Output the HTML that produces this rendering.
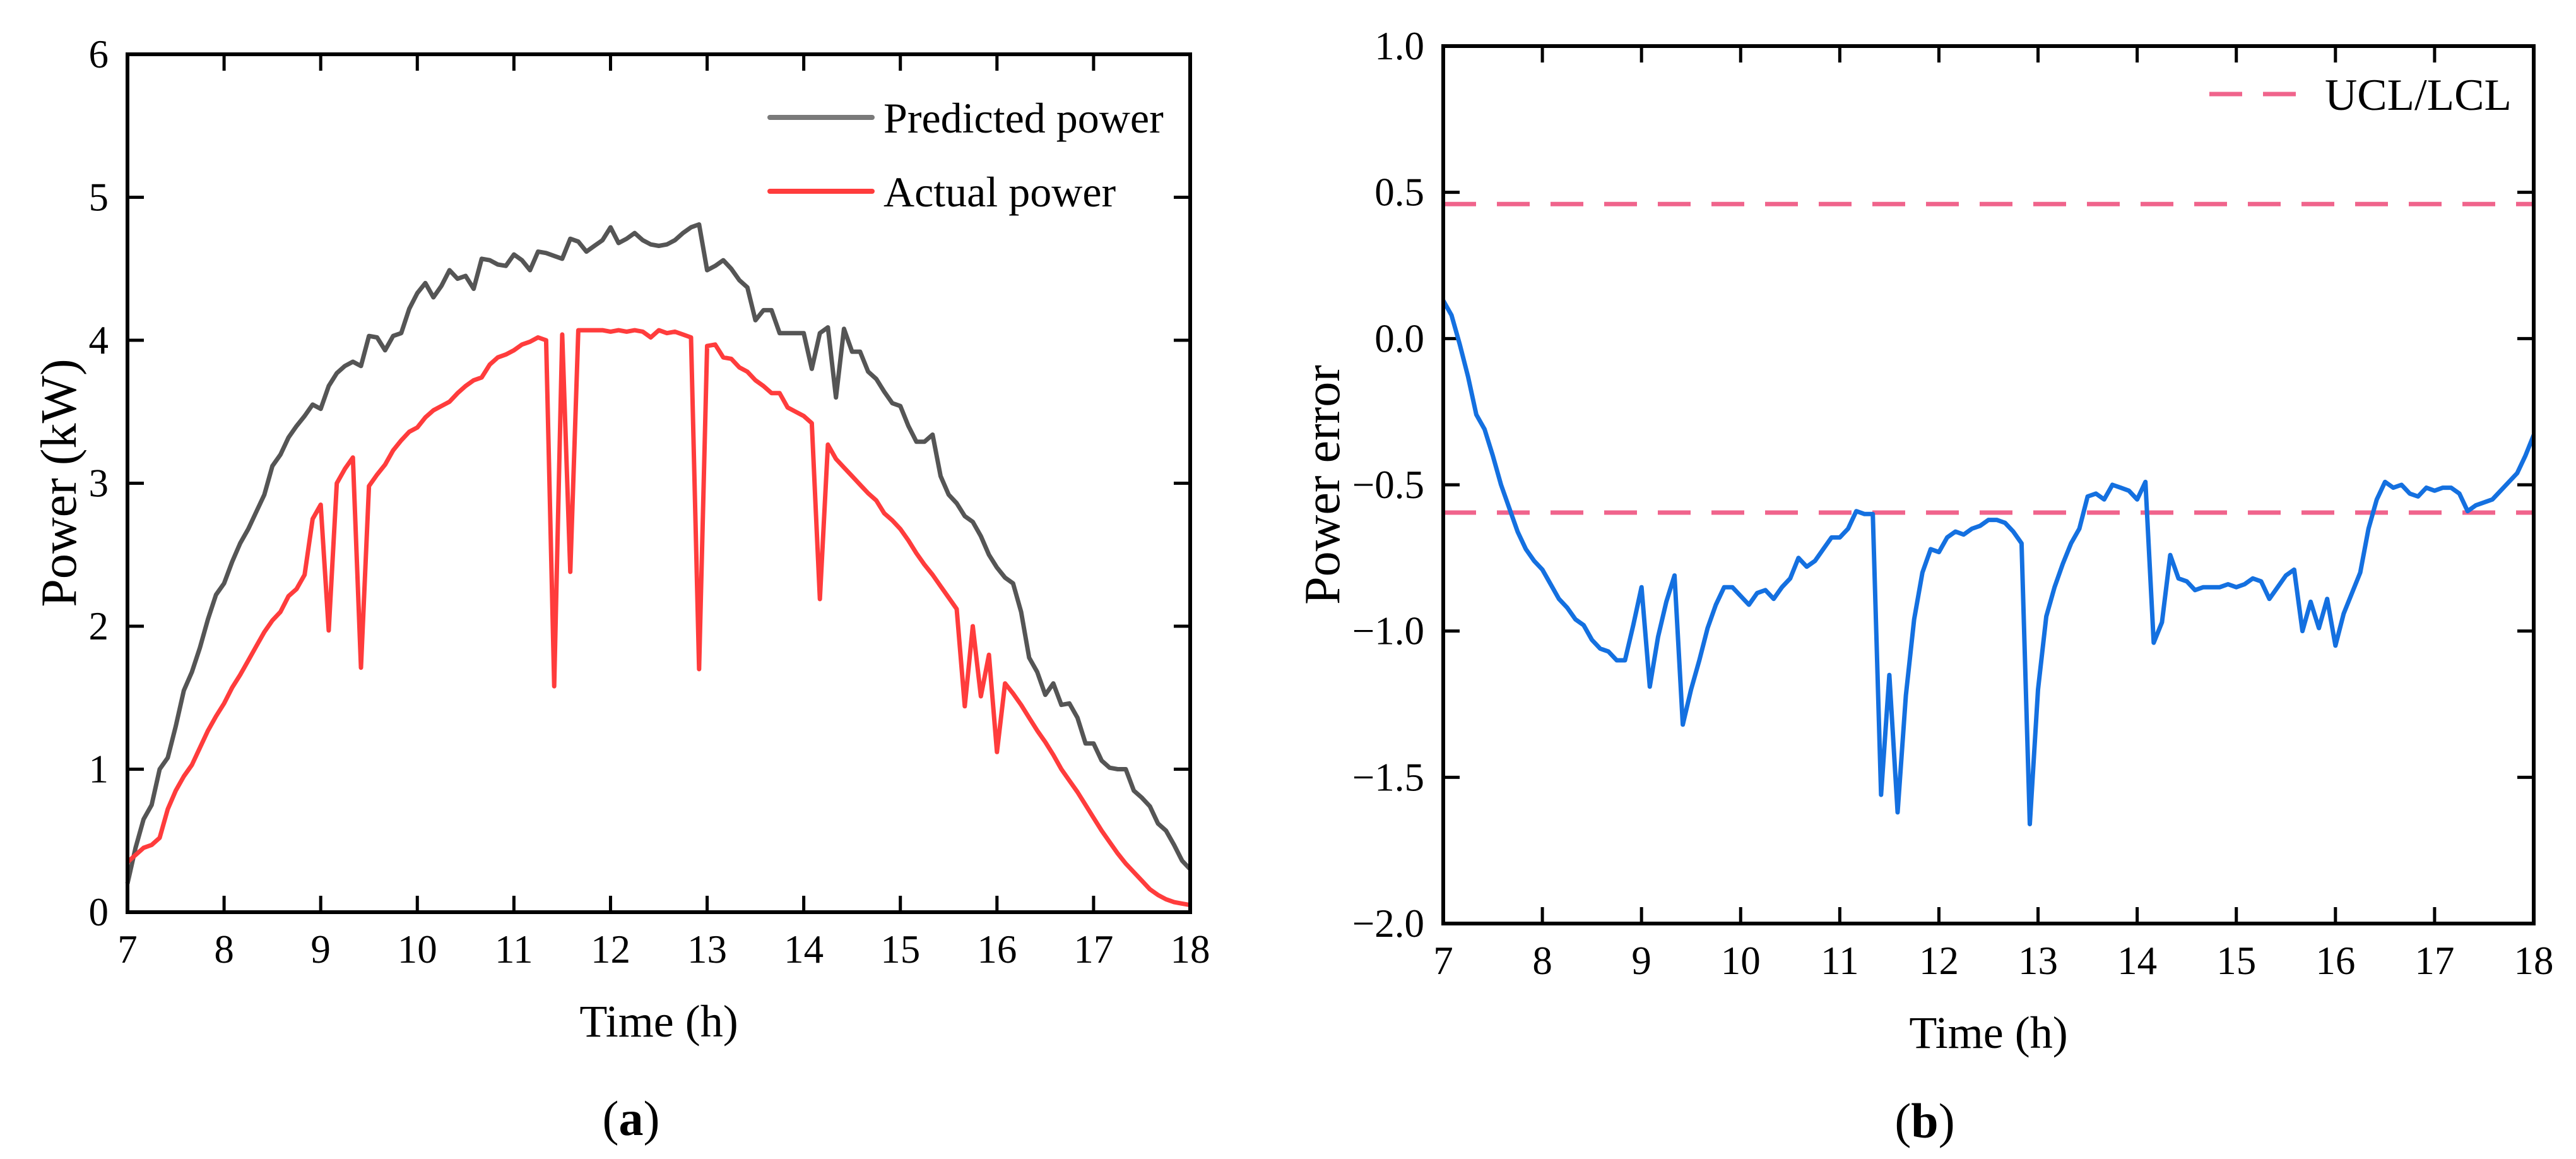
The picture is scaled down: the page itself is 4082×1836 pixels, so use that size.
<!DOCTYPE html>
<html><head><meta charset="utf-8"><style>
html,body{margin:0;padding:0;background:#fff}
svg{display:block}
text{font-family:"Liberation Serif","DejaVu Serif",serif;fill:#000}
</style></head><body>
<svg id="fig" width="4082" height="1836" viewBox="0 0 4082 1836" xmlns="http://www.w3.org/2000/svg">
<g id="pa"></g>
<g id="pb"></g>
</svg>
<script>
const xTicks = [7,8,9,10,11,12,13,14,15,16,17,18];
const yTicksA = [0,1,2,3,4,5,6];
const yTicksB = [-2.0,-1.5,-1.0,-0.5,0.0,0.5,1.0];
const ucl = 0.46;
const lcl = -0.595;
const predicted = [0.2,0.45,0.65,0.75,1.0,1.08,1.3,1.55,1.68,1.85,2.05,2.22,
2.3,2.45,2.58,2.68,2.8,2.92,3.12,3.2,3.32,3.4,3.47,3.55,
3.52,3.68,3.77,3.82,3.85,3.82,4.03,4.02,3.93,4.03,4.05,4.22,
4.33,4.4,4.3,4.38,4.49,4.43,4.45,4.36,4.57,4.56,4.53,4.52,
4.6,4.56,4.49,4.62,4.61,4.59,4.57,4.71,4.69,4.62,4.66,4.7,
4.79,4.68,4.71,4.75,4.7,4.67,4.66,4.67,4.7,4.75,4.79,4.81,
4.49,4.52,4.56,4.5,4.42,4.37,4.14,4.21,4.21,4.05,4.05,4.05,
4.05,3.8,4.05,4.09,3.6,4.08,3.92,3.92,3.78,3.73,3.64,3.56,
3.54,3.4,3.29,3.29,3.34,3.05,2.92,2.86,2.77,2.73,2.63,2.5,
2.41,2.34,2.3,2.1,1.78,1.68,1.52,1.6,1.45,1.46,1.36,1.18,
1.18,1.06,1.01,1.0,1.0,0.85,0.8,0.74,0.62,0.57,0.47,0.36,
0.3];
const actual = [0.35,0.4,0.45,0.47,0.52,0.72,0.85,0.95,1.03,1.15,1.27,1.37,
1.46,1.57,1.66,1.76,1.86,1.96,2.04,2.1,2.21,2.26,2.36,2.75,
2.85,1.97,3.0,3.1,3.18,1.71,2.98,3.06,3.13,3.23,3.3,3.36,
3.39,3.46,3.51,3.54,3.57,3.63,3.68,3.72,3.74,3.83,3.88,3.9,
3.93,3.97,3.99,4.02,4.0,1.58,4.04,2.38,4.07,4.07,4.07,4.07,
4.06,4.07,4.06,4.07,4.06,4.02,4.07,4.05,4.06,4.04,4.02,1.7,
3.96,3.97,3.88,3.87,3.81,3.78,3.72,3.68,3.63,3.63,3.53,3.5,
3.47,3.42,2.19,3.27,3.17,3.11,3.05,2.99,2.93,2.88,2.79,2.74,
2.68,2.6,2.51,2.43,2.36,2.28,2.2,2.12,1.44,2.0,1.51,1.8,
1.12,1.6,1.53,1.45,1.36,1.27,1.19,1.1,1.0,0.92,0.84,0.75,
0.66,0.57,0.49,0.41,0.34,0.28,0.22,0.16,0.12,0.09,0.07,0.06,
0.05];
const errorVals = [0.13,0.08,-0.02,-0.13,-0.26,-0.31,-0.4,-0.5,-0.58,-0.66,-0.72,-0.76,
-0.79,-0.84,-0.89,-0.92,-0.96,-0.98,-1.03,-1.06,-1.07,-1.1,-1.1,-0.98,
-0.85,-1.19,-1.02,-0.9,-0.81,-1.32,-1.2,-1.1,-0.99,-0.91,-0.85,-0.85,
-0.88,-0.91,-0.87,-0.86,-0.89,-0.85,-0.82,-0.75,-0.78,-0.76,-0.72,-0.68,
-0.68,-0.65,-0.59,-0.6,-0.6,-1.56,-1.15,-1.62,-1.22,-0.96,-0.8,-0.72,
-0.73,-0.68,-0.66,-0.67,-0.65,-0.64,-0.62,-0.62,-0.63,-0.66,-0.7,-1.66,
-1.2,-0.95,-0.85,-0.77,-0.7,-0.65,-0.54,-0.53,-0.55,-0.5,-0.51,-0.52,
-0.55,-0.49,-1.04,-0.97,-0.74,-0.82,-0.83,-0.86,-0.85,-0.85,-0.85,-0.84,
-0.85,-0.84,-0.82,-0.83,-0.89,-0.85,-0.81,-0.79,-1.0,-0.9,-0.99,-0.89,
-1.05,-0.94,-0.87,-0.8,-0.65,-0.55,-0.49,-0.51,-0.5,-0.53,-0.54,-0.51,
-0.52,-0.51,-0.51,-0.53,-0.59,-0.57,-0.56,-0.55,-0.52,-0.49,-0.46,-0.4,
-0.33];

const NS = 'http://www.w3.org/2000/svg';
function mk(parent, tag, attrs, txt){
  const e = document.createElementNS(NS, tag);
  for (const k in attrs) e.setAttribute(k, attrs[k]);
  if (txt !== undefined) e.textContent = txt;
  parent.appendChild(e);
  return e;
}
function fmtB(v){ const s = Math.abs(v).toFixed(1); return v < 0 ? '\u2212' + s : s; }

function panel(g, L, R, T, B, xmin, xmax, ymin, ymax, yTicks, yFmt){
  const sx = v => L + (v - xmin) / (xmax - xmin) * (R - L);
  const sy = v => B - (v - ymin) / (ymax - ymin) * (B - T);
  const tl = 26;
  xTicks.forEach(t => {
    const x = sx(t);
    const tk = mk(g, 'path', {d:`M${x},${B}V${B-tl}M${x},${T}V${T+tl}`, stroke:'#000','stroke-width':5});
    
    
    const lb = mk(g, 'text', {x:x, y:B+80, 'font-size':63, 'text-anchor':'middle'}, String(t));
    
    
  });
  yTicks.forEach(t => {
    const y = sy(t);
    const tk = mk(g, 'path', {d:`M${L},${y}H${L+tl}M${R},${y}H${R-tl}`, stroke:'#000','stroke-width':5});
    
    
    const lb = mk(g, 'text', {x:L-30, y:y+21, 'font-size':63, 'text-anchor':'end'}, yFmt(t));
    
    
  });
  return {sx, sy};
}
function series(g, vals, sx, sy, color, name){
  const n = vals.length;
  const d = vals.map((v,i) => (i ? 'L' : 'M') + sx(7 + i * 11 / (n - 1)).toFixed(1) + ',' + sy(v).toFixed(1)).join('');
  const p = mk(g, 'path', {d:d, fill:'none', stroke:color, 'stroke-width':7, 'stroke-linejoin':'round'});
  
  
}
function frame(g, L, R, T, B){
  const f = mk(g, 'rect', {x:L, y:T, width:R-L, height:B-T, fill:'none', stroke:'#000', 'stroke-width':6});
  
  
}

// Panel A
const ga = document.getElementById('pa');
const A = {L:202, R:1886, T:86, B:1445};
const sa = panel(ga, A.L, A.R, A.T, A.B, 7, 18, 0, 6, yTicksA, v => String(v));
series(ga, predicted, sa.sx, sa.sy, '#555555', 'predicted-power-line');
series(ga, actual, sa.sx, sa.sy, '#ff3c3c', 'actual-power-line');
frame(ga, A.L, A.R, A.T, A.B);
let e;
e = mk(ga, 'path', {d:'M1220,186H1382', stroke:'#7a7a7a', 'stroke-width':8, 'stroke-linecap':'round'});
 
e = mk(ga, 'text', {x:1400, y:210, 'font-size':68}, 'Predicted power');
 
e = mk(ga, 'path', {d:'M1220,303H1382', stroke:'#ff3c3c', 'stroke-width':8, 'stroke-linecap':'round'});
 
e = mk(ga, 'text', {x:1400, y:327, 'font-size':68}, 'Actual power');
 
e = mk(ga, 'text', {x:1044, y:1642, 'font-size':72, 'text-anchor':'middle'}, 'Time (h)');
 
e = mk(ga, 'text', {x:0, y:0, 'font-size':80, 'text-anchor':'middle', transform:'translate(120,765) rotate(-90)'}, 'Power (kW)');
 
e = mk(ga, 'text', {x:1000, y:1798, 'font-size':78, 'text-anchor':'middle'});
e.innerHTML = '(<tspan font-weight="bold">a</tspan>)';
 

// Panel B
const gb = document.getElementById('pb');
const Bp = {L:2287, R:4015, T:73, B:1463};
const sb = panel(gb, Bp.L, Bp.R, Bp.T, Bp.B, 7, 18, -2, 1, yTicksB, fmtB);
[ucl, lcl].forEach((v, i) => {
  const l = mk(gb, 'path', {d:`M${Bp.L},${sb.sy(v)}H${Bp.R}`, stroke:'#f0648c', 'stroke-width':7, 'stroke-dasharray':'52,33'});
  
  
});
series(gb, errorVals, sb.sx, sb.sy, '#1470e0', 'power-error-line');
frame(gb, Bp.L, Bp.R, Bp.T, Bp.B);
e = mk(gb, 'path', {d:'M3501,149H3666', stroke:'#f0648c', 'stroke-width':7, 'stroke-dasharray':'52,33'});
 
e = mk(gb, 'text', {x:3684, y:174, 'font-size':71}, 'UCL/LCL');
 
e = mk(gb, 'text', {x:3151, y:1660, 'font-size':72, 'text-anchor':'middle'}, 'Time (h)');
 
e = mk(gb, 'text', {x:0, y:0, 'font-size':80, 'text-anchor':'middle', transform:'translate(2122,768) rotate(-90)'}, 'Power error');
 
e = mk(gb, 'text', {x:3050, y:1802, 'font-size':78, 'text-anchor':'middle'});
e.innerHTML = '(<tspan font-weight="bold">b</tspan>)';
 
</script>
</body></html>
